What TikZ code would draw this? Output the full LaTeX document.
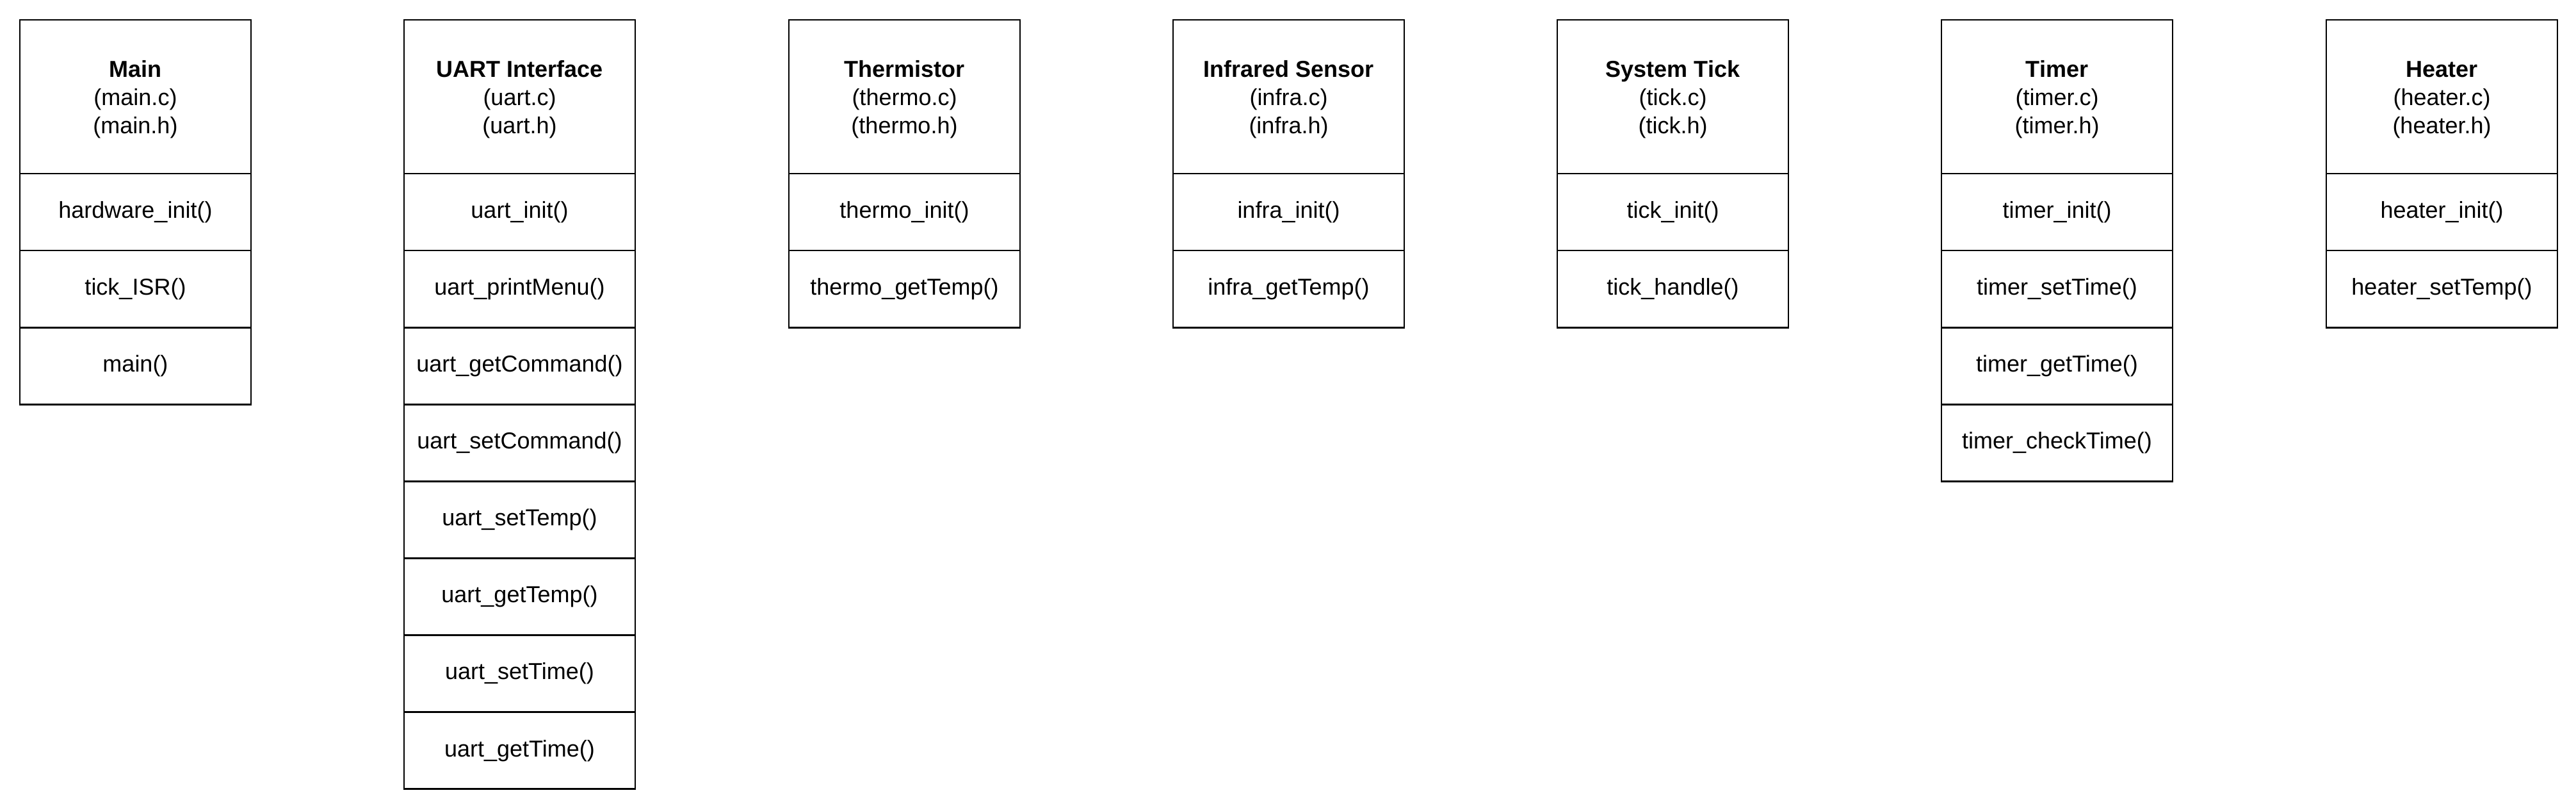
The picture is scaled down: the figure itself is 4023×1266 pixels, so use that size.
\documentclass[tikz,border=0pt]{standalone}
\usepackage{fontspec}
\setmainfont{Liberation Sans}
\newcommand{\hstrut}{\rule{0pt}{34pt}}
\begin{document}
\begin{tikzpicture}[x=1pt,y=-1pt,
  box/.style={draw=black, line width=2.7pt, fill=white, minimum width=361pt,
    inner sep=0pt, outer sep=0pt, align=center,
    font=\fontsize{36}{44}\selectfont},
  hdr/.style={box, minimum height=240pt, anchor=north west},
  fn/.style={box, minimum height=120.1pt, anchor=north}]
\useasboundingbox[fill=white] (0,0) rectangle (4023,1266);

% Main
\node[hdr] (main) at (31,31) {\hstrut\textbf{Main}\\(main.c)\\(main.h)};
\node[fn] (main1) at (main.south) {hardware\_init()};
\node[fn] (main2) at (main1.south) {tick\_ISR()};
\node[fn] (main3) at (main2.south) {main()};

% UART
\node[hdr] (uart) at (631,31) {\hstrut\textbf{UART Interface}\\(uart.c)\\(uart.h)};
\node[fn] (uart1) at (uart.south) {uart\_init()};
\node[fn] (uart2) at (uart1.south) {uart\_printMenu()};
\node[fn] (uart3) at (uart2.south) {uart\_getCommand()};
\node[fn] (uart4) at (uart3.south) {uart\_setCommand()};
\node[fn] (uart5) at (uart4.south) {uart\_setTemp()};
\node[fn] (uart6) at (uart5.south) {uart\_getTemp()};
\node[fn] (uart7) at (uart6.south) {uart\_setTime()};
\node[fn] (uart8) at (uart7.south) {uart\_getTime()};

% Thermistor
\node[hdr] (thermo) at (1232,31) {\hstrut\textbf{Thermistor}\\(thermo.c)\\(thermo.h)};
\node[fn] (thermo1) at (thermo.south) {thermo\_init()};
\node[fn] (thermo2) at (thermo1.south) {thermo\_getTemp()};

% Infrared
\node[hdr] (infra) at (1832,31) {\hstrut\textbf{Infrared Sensor}\\(infra.c)\\(infra.h)};
\node[fn] (infra1) at (infra.south) {infra\_init()};
\node[fn] (infra2) at (infra1.south) {infra\_getTemp()};

% System Tick
\node[hdr] (tick) at (2432,31) {\hstrut\textbf{System Tick}\\(tick.c)\\(tick.h)};
\node[fn] (tick1) at (tick.south) {tick\_init()};
\node[fn] (tick2) at (tick1.south) {tick\_handle()};

% Timer
\node[hdr] (timer) at (3032,31) {\hstrut\textbf{Timer}\\(timer.c)\\(timer.h)};
\node[fn] (timer1) at (timer.south) {timer\_init()};
\node[fn] (timer2) at (timer1.south) {timer\_setTime()};
\node[fn] (timer3) at (timer2.south) {timer\_getTime()};
\node[fn] (timer4) at (timer3.south) {timer\_checkTime()};

% Heater
\node[hdr] (heater) at (3633,31) {\hstrut\textbf{Heater}\\(heater.c)\\(heater.h)};
\node[fn] (heater1) at (heater.south) {heater\_init()};
\node[fn] (heater2) at (heater1.south) {heater\_setTemp()};
\end{tikzpicture}
\end{document}
